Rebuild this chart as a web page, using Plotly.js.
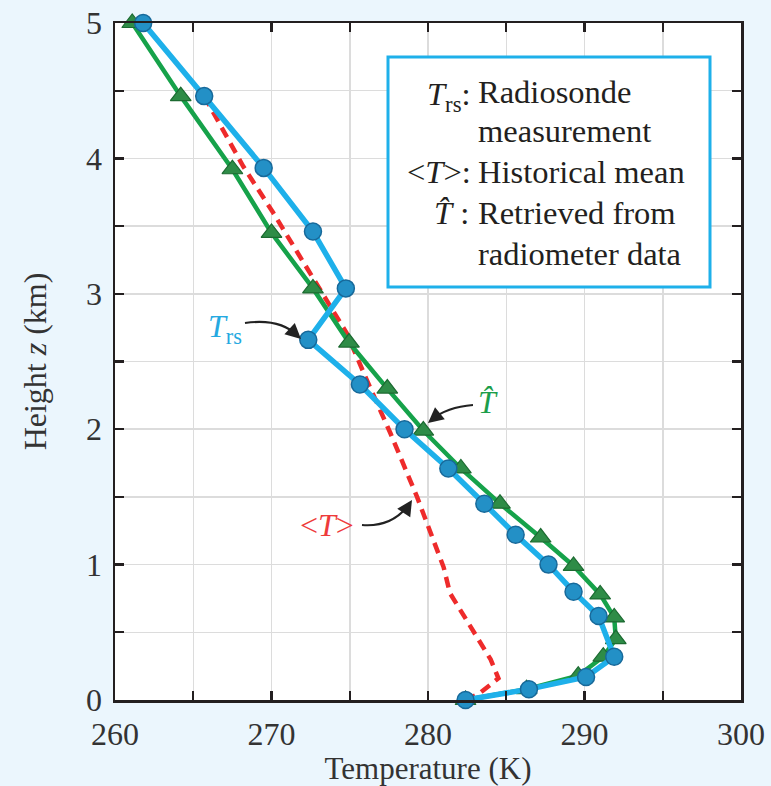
<!DOCTYPE html>
<html>
<head>
<meta charset="utf-8">
<script src="https://cdn.plot.ly/plotly-3.0.1.min.js"></script>
<style>html,body{margin:0;padding:0;background:#EBF6FD;}#chart{width:771px;height:786px;}</style>
</head>
<body>
<div id="chart"></div>
<script>
// ---- Data ----
// Radiosonde measurement T_rs
const rsTemp   = [261.8, 265.7, 269.5, 272.65, 274.75, 272.35, 275.65, 278.5, 281.3, 283.6, 285.6, 287.7, 289.3, 290.9, 291.9, 290.1, 286.45, 282.4];
const rsHeight = [5.0, 4.46, 3.93, 3.46, 3.04, 2.66, 2.33, 2.0, 1.71, 1.45, 1.22, 1.0, 0.80, 0.62, 0.32, 0.17, 0.08, 0.0];
// Retrieved from radiometer data T-hat
const retTemp   = [261.1, 264.2, 267.5, 270.0, 272.65, 274.95, 277.4, 279.7, 282.1, 284.6, 287.2, 289.3, 291.0, 291.9, 292.0, 291.2, 289.6, 286.3, 282.4];
const retHeight = [5.0, 4.46, 3.92, 3.45, 3.04, 2.64, 2.30, 1.99, 1.71, 1.45, 1.20, 0.99, 0.78, 0.61, 0.45, 0.32, 0.18, 0.08, 0.0];
// Historical mean <T>
const meanTemp   = [265.7, 268.2, 270.1, 272.5, 274.8, 276.1, 277.6, 279.3, 280.3, 281.0, 281.4, 282.7, 284.0, 284.5, 283.3, 282.4];
const meanHeight = [4.46, 3.94, 3.60, 3.15, 2.71, 2.36, 1.97, 1.50, 1.20, 0.98, 0.79, 0.54, 0.30, 0.16, 0.05, 0.0];
// Ticks
const xTickVals = [260, 265, 270, 275, 280, 285, 290, 295, 300];
const xTickText = ['260', '', '270', '', '280', '', '290', '', '300'];
const yTickVals = [0, 0.5, 1, 1.5, 2, 2.5, 3, 3.5, 4, 4.5, 5];
const yTickText = ['0', '', '1', '', '2', '', '3', '', '4', '', '5'];

// ---- Layout geometry ----
const W = 771, H = 786;
const M = {l: 115, r: 30, t: 23, b: 86};
const xR = [260, 300], yR = [0, 5];
const pw = W - M.l - M.r, ph = H - M.t - M.b;
const px2x = p => xR[0] + (p - M.l) / pw * (xR[1] - xR[0]);
const py2y = p => yR[0] + (H - M.b - p) / ph * (yR[1] - yR[0]);
const px2p = p => (p - M.l) / pw;
const py2p = p => (H - M.b - p) / ph;

const FONT = 'Liberation Serif, Times New Roman, serif';
const BLUE_LINE = '#1EB0EA', BLUE_MK = '#2390C6', BLUE_MK_LN = '#17699A';
const GREEN_LINE = '#16A24A', GREEN_MK = '#2E8C47', GREEN_MK_LN = '#1C6A31';
const RED = '#EE2B2B';
const BLUE_TXT = '#25A9E1', GREEN_TXT = '#1C9E4B', RED_TXT = '#EE3B3B';

const traces = [
  {x: meanTemp, y: meanHeight, mode: 'lines', type: 'scatter', cliponaxis: false,
   line: {color: RED, width: 4.5, dash: '11px,7px'}, name: '<T>'},
  {x: retTemp, y: retHeight, mode: 'lines+markers', type: 'scatter', cliponaxis: false,
   line: {color: GREEN_LINE, width: 4.5},
   marker: {symbol: 'triangle-up', size: 18, color: GREEN_MK, line: {color: GREEN_MK_LN, width: 1.2}}, name: 'T-hat'},
  {x: rsTemp, y: rsHeight, mode: 'lines+markers', type: 'scatter', cliponaxis: false,
   line: {color: BLUE_LINE, width: 5.5},
   marker: {symbol: 'circle', size: 17, color: BLUE_MK, line: {color: BLUE_MK_LN, width: 1.5}}, name: 'Trs'}
];

function curve(p0, c, p1) {
  return 'M ' + px2x(p0[0]) + ',' + py2y(p0[1]) + ' Q ' + px2x(c[0]) + ',' + py2y(c[1]) + ' ' + px2x(p1[0]) + ',' + py2y(p1[1]);
}
const arrowColor = '#222222';
const shapes = [
  {type: 'rect', xref: 'paper', yref: 'paper', x0: px2p(388), x1: px2p(710), y0: py2p(287), y1: py2p(57),
   fillcolor: 'white', line: {color: BLUE_LINE, width: 3}, layer: 'above'},
  {type: 'path', xref: 'x', yref: 'y', path: curve([245, 323], [280, 318], [298, 336]), line: {color: arrowColor, width: 2.2}},
  {type: 'path', xref: 'x', yref: 'y', path: curve([473, 405], [447, 407], [431, 420]), line: {color: arrowColor, width: 2.2}},
  {type: 'path', xref: 'x', yref: 'y', path: curve([362, 525], [393, 527.5], [410, 503]), line: {color: arrowColor, width: 2.2}}
];

function head(tip, dx, dy) {
  return {x: px2x(tip[0]), y: py2y(tip[1]), xref: 'x', yref: 'y', text: ' ', showarrow: true,
          arrowhead: 2, arrowsize: 1.4, arrowwidth: 2.2, arrowcolor: arrowColor, ax: dx, ay: dy, standoff: 0,
          font: {size: 2}};
}
function txt(text, x, y, color, xanchor, size) {
  return {x: px2p(x), y: py2p(y), xref: 'paper', yref: 'paper', text: text, showarrow: false,
          xanchor: xanchor || 'center', yanchor: 'middle', font: {family: FONT, size: size || 32, color: color}};
}
const legC = '#231F20';
const LS = 32.5;
const annotations = [
  head([301, 339], -11, -10),
  head([428, 423], 11, -9),
  head([412, 500], -7, 11),
  txt('<i>T</i><sub>rs</sub>', 225, 328, BLUE_TXT),
  txt('<i>T\u0302</i>', 488, 402, GREEN_TXT),
  txt('&lt;<i>T</i>&gt;', 327, 525, RED_TXT),
  // legend box text
  txt('<i>T</i><sub>rs</sub>:', 473, 96, legC, 'right', LS),
  txt('Radiosonde', 476, 92, legC, 'left', LS),
  txt('measurement', 476, 131, legC, 'left', LS),
  txt('&lt;<i>T</i>&gt;:', 473, 172, legC, 'right', LS),
  txt('Historical mean', 476, 172, legC, 'left', LS),
  txt('<i>T\u0302</i> :', 471, 213, legC, 'right', LS),
  txt('Retrieved from', 476, 213, legC, 'left', LS),
  txt('radiometer data', 476, 254, legC, 'left', LS)
];

const axisCommon = {
  showline: true, linecolor: '#231F20', linewidth: 2.5, mirror: 'ticks',
  ticks: 'inside', ticklen: 9, tickwidth: 2.2, tickcolor: '#231F20',
  showgrid: true, gridcolor: '#DCDCDC', gridwidth: 1.5, zeroline: false,
  tickfont: {family: FONT, size: 32, color: '#333333'}, tickmode: 'array'
};

const layout = {
  width: W, height: H,
  margin: M,
  paper_bgcolor: '#EBF6FD', plot_bgcolor: 'white',
  showlegend: false,
  xaxis: Object.assign({}, axisCommon, {range: xR, tickvals: xTickVals, ticktext: xTickText, ticklabelstandoff: 4,
    title: {text: 'Temperature (K)', font: {family: FONT, size: 31, color: '#333333'}, standoff: 3}}),
  yaxis: Object.assign({}, axisCommon, {range: yR, tickvals: yTickVals, ticktext: yTickText, ticklabelstandoff: 4,
    title: {text: 'Height <i>z</i> (km)', font: {family: FONT, size: 32, color: '#333333'}, standoff: 30}}),
  shapes: shapes,
  annotations: annotations
};

Plotly.newPlot('chart', traces, layout, {staticPlot: true, displayModeBar: false});
</script>
</body>
</html>
